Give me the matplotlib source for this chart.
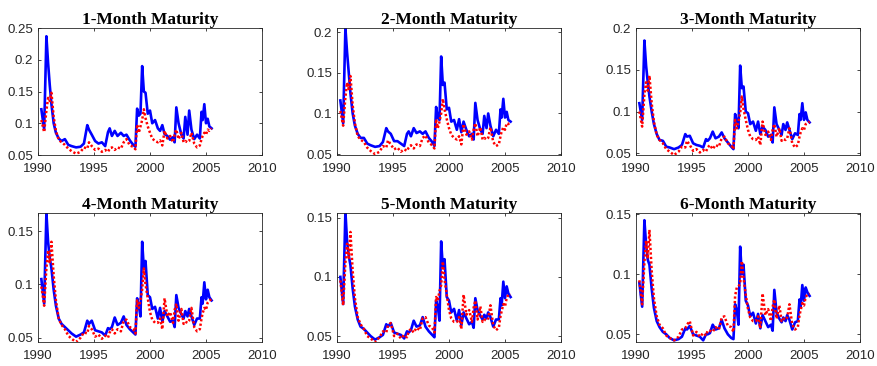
import numpy as np
import matplotlib
matplotlib.use("Agg")
import matplotlib.pyplot as plt
from matplotlib.ticker import FuncFormatter

# ---------------------------------------------------------------------------
# Data: shared sampling dates, one solid and one dotted series per maturity
# ---------------------------------------------------------------------------
dates = [
    1990.30, 1990.55, 1990.75, 1990.90, 1991.05, 1991.20, 1991.40, 1991.60, 1991.85,
    1992.10, 1992.40, 1992.70, 1993.00, 1993.40, 1993.80,
    1994.10, 1994.40, 1994.55, 1994.80,
    1995.10, 1995.40, 1995.70, 1996.00,
    1996.25, 1996.40, 1996.60, 1996.85,
    1997.10, 1997.40, 1997.65, 1997.90,
    1998.20, 1998.50, 1998.70, 1998.85,
    1999.00, 1999.15, 1999.30, 1999.45, 1999.60, 1999.80,
    2000.00, 2000.20, 2000.45, 2000.70, 2000.90,
    2001.10, 2001.30, 2001.55, 2001.80,
    2002.05, 2002.20, 2002.35, 2002.55, 2002.80,
    2003.00, 2003.15, 2003.35, 2003.50, 2003.70, 2003.95,
    2004.20, 2004.45, 2004.60, 2004.70, 2004.85,
    2005.00, 2005.15, 2005.30, 2005.50,
]

titles = ["1-Month Maturity", "2-Month Maturity", "3-Month Maturity",
          "4-Month Maturity", "5-Month Maturity", "6-Month Maturity"]

blue_1m = [0.122, 0.090, 0.237, 0.195, 0.160, 0.130, 0.100, 0.085, 0.076,
           0.072, 0.075, 0.066, 0.064, 0.062, 0.063,
           0.068, 0.097, 0.090, 0.082,
           0.072, 0.068, 0.070, 0.064,
           0.086, 0.092, 0.080, 0.088,
           0.080, 0.085, 0.080, 0.082,
           0.073, 0.066, 0.063, 0.123,
           0.112, 0.115, 0.190, 0.150, 0.148, 0.115,
           0.120, 0.100, 0.105, 0.092, 0.088,
           0.097, 0.083, 0.080, 0.074,
           0.078, 0.070, 0.125, 0.100, 0.082,
           0.076, 0.110, 0.082, 0.120, 0.090, 0.075,
           0.082, 0.076, 0.118, 0.105, 0.130,
           0.100, 0.107, 0.095, 0.092]
red_1m = [0.105, 0.086, 0.120, 0.140, 0.135, 0.148, 0.110, 0.088, 0.074,
          0.070, 0.066, 0.060, 0.056, 0.052, 0.055,
          0.062, 0.060, 0.070, 0.064,
          0.058, 0.060, 0.055, 0.058,
          0.055, 0.060, 0.062, 0.058,
          0.062, 0.060, 0.070, 0.075,
          0.065, 0.063, 0.059, 0.098,
          0.085, 0.095, 0.105, 0.122, 0.108, 0.095,
          0.085, 0.076, 0.072, 0.070, 0.073,
          0.065, 0.088, 0.076, 0.080,
          0.070, 0.082, 0.090, 0.075, 0.085,
          0.070, 0.072, 0.070, 0.072, 0.085, 0.068,
          0.062, 0.065, 0.075, 0.080, 0.085,
          0.082, 0.090, 0.088, 0.092]

blue_2m = [0.116, 0.088, 0.205, 0.175, 0.150, 0.125, 0.100, 0.085, 0.075,
           0.070, 0.070, 0.063, 0.061, 0.059, 0.060,
           0.065, 0.082, 0.078, 0.075,
           0.066, 0.066, 0.063, 0.060,
           0.075, 0.078, 0.072, 0.082,
           0.076, 0.078, 0.075, 0.078,
           0.070, 0.065, 0.060, 0.108,
           0.095, 0.092, 0.170, 0.135, 0.138, 0.105,
           0.107, 0.090, 0.092, 0.080, 0.093,
           0.077, 0.090, 0.080, 0.072,
           0.075, 0.068, 0.113, 0.092, 0.080,
           0.075, 0.097, 0.082, 0.100, 0.085, 0.072,
           0.080, 0.075, 0.105, 0.095, 0.118,
           0.095, 0.102, 0.092, 0.090]
red_2m = [0.103, 0.085, 0.120, 0.138, 0.130, 0.146, 0.110, 0.088, 0.072,
          0.068, 0.065, 0.058, 0.054, 0.050, 0.053,
          0.060, 0.058, 0.067, 0.062,
          0.056, 0.058, 0.053, 0.056,
          0.054, 0.058, 0.061, 0.057,
          0.062, 0.060, 0.070, 0.073,
          0.064, 0.061, 0.057, 0.093,
          0.082, 0.090, 0.100, 0.118, 0.105, 0.093,
          0.082, 0.074, 0.070, 0.068, 0.072,
          0.062, 0.087, 0.074, 0.078,
          0.068, 0.080, 0.088, 0.072, 0.083,
          0.068, 0.070, 0.068, 0.070, 0.083, 0.065,
          0.060, 0.062, 0.072, 0.078, 0.083,
          0.080, 0.088, 0.087, 0.090]

blue_3m = [0.110, 0.090, 0.185, 0.155, 0.135, 0.118, 0.100, 0.085, 0.073,
           0.066, 0.065, 0.058, 0.057, 0.055, 0.057,
           0.060, 0.073, 0.070, 0.071,
           0.062, 0.060, 0.059, 0.057,
           0.067, 0.065, 0.068, 0.076,
           0.068, 0.070, 0.075, 0.068,
           0.063, 0.058, 0.055, 0.097,
           0.088, 0.080, 0.155, 0.128, 0.130, 0.100,
           0.098, 0.085, 0.088, 0.077, 0.088,
           0.073, 0.082, 0.078, 0.070,
           0.072, 0.063, 0.105, 0.085, 0.078,
           0.072, 0.085, 0.078, 0.087, 0.078, 0.067,
           0.074, 0.072, 0.097, 0.090, 0.110,
           0.090, 0.099, 0.090, 0.087]
red_3m = [0.100, 0.082, 0.120, 0.135, 0.125, 0.143, 0.110, 0.088, 0.072,
          0.066, 0.062, 0.055, 0.052, 0.048, 0.052,
          0.058, 0.057, 0.065, 0.060,
          0.053, 0.055, 0.051, 0.054,
          0.052, 0.057, 0.060, 0.055,
          0.060, 0.058, 0.068, 0.070,
          0.062, 0.060, 0.055, 0.090,
          0.080, 0.088, 0.098, 0.118, 0.103, 0.090,
          0.078, 0.070, 0.067, 0.066, 0.070,
          0.060, 0.088, 0.072, 0.076,
          0.066, 0.078, 0.085, 0.070, 0.080,
          0.065, 0.067, 0.066, 0.068, 0.080, 0.062,
          0.057, 0.060, 0.070, 0.075, 0.080,
          0.078, 0.085, 0.086, 0.088]

blue_4m = [0.105, 0.082, 0.167, 0.140, 0.125, 0.115, 0.095, 0.080, 0.068,
           0.063, 0.060, 0.057, 0.054, 0.051, 0.053,
           0.055, 0.066, 0.063, 0.066,
           0.057, 0.056, 0.055, 0.052,
           0.059, 0.058, 0.060, 0.069,
           0.062, 0.064, 0.070, 0.062,
           0.058, 0.055, 0.053, 0.087,
           0.080, 0.070, 0.140, 0.115, 0.122, 0.090,
           0.088, 0.077, 0.079, 0.068, 0.078,
           0.065, 0.075, 0.070, 0.065,
           0.066, 0.060, 0.090, 0.078, 0.072,
           0.068, 0.075, 0.070, 0.077, 0.070, 0.062,
           0.068, 0.068, 0.088, 0.082, 0.102,
           0.086, 0.095, 0.088, 0.085]
red_4m = [0.098, 0.080, 0.115, 0.132, 0.120, 0.140, 0.108, 0.085, 0.068,
          0.062, 0.058, 0.052, 0.049, 0.046, 0.050,
          0.055, 0.054, 0.061, 0.058,
          0.051, 0.053, 0.049, 0.052,
          0.050, 0.055, 0.058, 0.054,
          0.058, 0.056, 0.066, 0.067,
          0.060, 0.058, 0.054, 0.085,
          0.078, 0.085, 0.095, 0.115, 0.100, 0.087,
          0.074, 0.067, 0.064, 0.064, 0.068,
          0.058, 0.087, 0.070, 0.074,
          0.064, 0.076, 0.082, 0.066, 0.077,
          0.063, 0.065, 0.064, 0.066, 0.078, 0.060,
          0.056, 0.058, 0.068, 0.073, 0.078,
          0.076, 0.083, 0.085, 0.086]

blue_5m = [0.100, 0.077, 0.155, 0.130, 0.118, 0.110, 0.090, 0.075, 0.064,
           0.058, 0.056, 0.053, 0.050, 0.047, 0.049,
           0.051, 0.060, 0.058, 0.061,
           0.053, 0.052, 0.051, 0.048,
           0.054, 0.053, 0.055, 0.063,
           0.058, 0.059, 0.066, 0.058,
           0.054, 0.051, 0.049, 0.080,
           0.075, 0.063, 0.130, 0.108, 0.115, 0.083,
           0.080, 0.070, 0.073, 0.063, 0.072,
           0.059, 0.070, 0.065, 0.060,
           0.062, 0.057, 0.082, 0.072, 0.067,
           0.064, 0.068, 0.065, 0.070, 0.066, 0.058,
           0.064, 0.064, 0.082, 0.076, 0.096,
           0.082, 0.092, 0.086, 0.083]
red_5m = [0.097, 0.076, 0.112, 0.128, 0.116, 0.138, 0.105, 0.082, 0.066,
          0.060, 0.056, 0.050, 0.048, 0.045, 0.049,
          0.054, 0.053, 0.059, 0.061,
          0.050, 0.052, 0.048, 0.051,
          0.049, 0.054, 0.056, 0.053,
          0.057, 0.055, 0.065, 0.066,
          0.059, 0.057, 0.053, 0.083,
          0.080, 0.088, 0.093, 0.113, 0.098, 0.085,
          0.072, 0.065, 0.062, 0.062, 0.066,
          0.056, 0.085, 0.068, 0.072,
          0.062, 0.074, 0.080, 0.064, 0.075,
          0.062, 0.064, 0.063, 0.065, 0.076, 0.059,
          0.055, 0.057, 0.067, 0.071, 0.077,
          0.075, 0.082, 0.085, 0.085]

blue_6m = [0.093, 0.073, 0.145, 0.125, 0.112, 0.108, 0.088, 0.072, 0.061,
           0.056, 0.052, 0.050, 0.047, 0.045, 0.046,
           0.048, 0.055, 0.054, 0.057,
           0.050, 0.049, 0.048, 0.045,
           0.050, 0.050, 0.051, 0.058,
           0.054, 0.055, 0.062, 0.055,
           0.050, 0.047, 0.046, 0.075,
           0.070, 0.058, 0.123, 0.100, 0.108, 0.078,
           0.074, 0.065, 0.068, 0.059, 0.067,
           0.055, 0.066, 0.061, 0.056,
           0.058, 0.053, 0.087, 0.068, 0.063,
           0.060, 0.064, 0.061, 0.066, 0.062, 0.054,
           0.060, 0.061, 0.079, 0.073, 0.091,
           0.078, 0.089, 0.085, 0.082]
red_6m = [0.095, 0.075, 0.110, 0.128, 0.113, 0.137, 0.103, 0.080, 0.065,
          0.058, 0.055, 0.049, 0.047, 0.045, 0.048,
          0.054, 0.055, 0.058, 0.061,
          0.049, 0.052, 0.048, 0.051,
          0.049, 0.053, 0.053, 0.052,
          0.056, 0.054, 0.064, 0.065,
          0.057, 0.056, 0.052, 0.082,
          0.089, 0.090, 0.092, 0.111, 0.097, 0.083,
          0.071, 0.064, 0.061, 0.061, 0.065,
          0.055, 0.084, 0.066, 0.071,
          0.061, 0.073, 0.079, 0.063, 0.074,
          0.061, 0.063, 0.062, 0.064, 0.075, 0.058,
          0.054, 0.056, 0.066, 0.070, 0.076,
          0.074, 0.081, 0.083, 0.084]

blue_series = [blue_1m, blue_2m, blue_3m, blue_4m, blue_5m, blue_6m]
red_series = [red_1m, red_2m, red_3m, red_4m, red_5m, red_6m]

y_limits = [(0.05, 0.25), (0.049, 0.205), (0.048, 0.20),
            (0.046, 0.167), (0.045, 0.154), (0.0436, 0.151)]
y_ticks = [[0.05, 0.10, 0.15, 0.20, 0.25],
           [0.05, 0.10, 0.15, 0.20],
           [0.05, 0.10, 0.15, 0.20],
           [0.05, 0.10, 0.15],
           [0.05, 0.10, 0.15],
           [0.05, 0.10, 0.15]]
x_ticks = [1990, 1995, 2000, 2005, 2010]

# ---------------------------------------------------------------------------
# Layout (figure fractions)
# ---------------------------------------------------------------------------
W, H = 878, 366
col_left = [38, 337, 636]
ax_w = 224
row_span = [(28, 155), (213, 342)]   # top / bottom pixel rows of each row

AX_COLOR = "#262626"
plt.rcParams["font.family"] = ["Liberation Sans", "DejaVu Sans"]

fig = plt.figure(figsize=(W / 100, H / 100), dpi=100)

for i in range(6):
    r, c = divmod(i, 3)
    top, bot = row_span[r]
    ax = fig.add_axes([col_left[c] / W, 1 - bot / H, ax_w / W, (bot - top) / H])

    ax.plot(dates, blue_series[i], color="#0000ff", linewidth=1.9, zorder=2)
    ax.plot(dates, red_series[i], color="#ff0000", linewidth=1.8,
            dashes=(0.9, 0.9), zorder=3)

    ax.set_xlim(1990, 2010)
    ax.set_ylim(*y_limits[i])
    ax.set_xticks(x_ticks)
    ax.set_yticks(y_ticks[i])
    ax.yaxis.set_major_formatter(FuncFormatter(lambda v, p: f"{v:g}"))

    ax.tick_params(direction="in", length=2.5, width=0.6, colors=AX_COLOR,
                   labelsize=9.5, top=True, right=True)
    ax.tick_params(axis="x", pad=6)
    ax.tick_params(axis="y", pad=3.5)
    for sp in ax.spines.values():
        sp.set_color(AX_COLOR)
        sp.set_linewidth(0.6)

    ax.set_title(titles[i], fontsize=12.5, fontweight="bold",
                 family=["Liberation Serif", "DejaVu Serif"], pad=3)

fig.savefig("out.png", dpi=100)
